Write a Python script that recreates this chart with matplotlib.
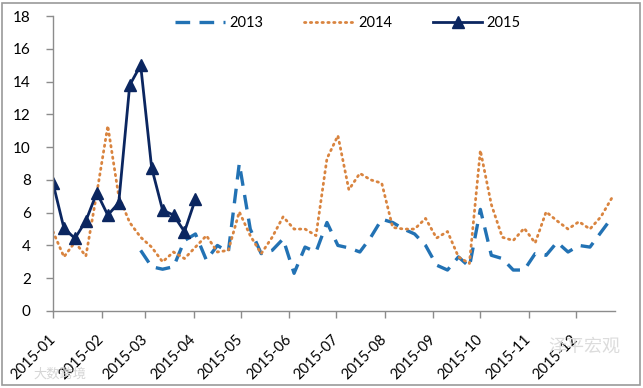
import numpy as np
import pandas as pd
import matplotlib
matplotlib.use('Agg')
import matplotlib.pyplot as plt
from matplotlib.patches import Rectangle

# weekly observations, plotted on a 2015 calendar axis
weeks = pd.date_range('2015-01-01', periods=52, freq='7D')

nan = np.nan
y2013 = [nan, nan, nan, nan, nan, nan, nan, nan,
         3.7, 2.7, 2.55, 2.7, 4.3, 4.7, 3.1, 4.0, 3.6, 9.0, 5.0, 3.5,
         3.7, 4.4, 2.3, 3.9, 3.6, 5.4, 4.0, 3.85, 3.6, 4.5, 5.6, 5.4,
         5.0, 4.7, 4.0, 2.8, 2.5, 3.3, 2.7, 6.2, 3.4, 3.2, 2.5, 2.5,
         3.5, 3.4, 4.2, 3.6, 4.0, 3.9, 4.8, 5.7]
y2014 = [4.85, 3.3, 4.2, 3.35, 7.2, 11.3, 7.0, 5.4, 4.5, 3.9, 3.0, 3.6,
         3.2, 3.9, 4.6, 3.6, 3.7, 6.05, 4.6, 3.5, 4.5, 5.75, 5.0, 5.0,
         4.6, 9.3, 10.7, 7.4, 8.4, 8.0, 7.8, 5.1, 5.0, 5.0, 5.65, 4.45,
         4.85, 3.3, 2.9, 9.8, 6.5, 4.5, 4.3, 5.05, 4.15, 6.05, 5.5, 5.0,
         5.45, 5.0, 5.75, 6.9]
y2015 = [7.8, 5.05, 4.43, 5.5, 7.22, 5.85, 6.6, 13.78, 15.0, 8.75, 6.16,
         5.85, 4.84, 6.83]

month_ticks = pd.date_range('2015-01-01', periods=12, freq='MS')
month_labels = [d.strftime('%Y-%m') for d in month_ticks]

plt.rcParams['font.family'] = ['Lato', 'DejaVu Sans']

fig = plt.figure(figsize=(6.43, 3.88), dpi=100)
ax = fig.add_axes([53 / 643, 1 - 311 / 388, 562 / 643, 295 / 388])

ax.plot(weeks, y2013, color='#2272b4', lw=2.4, ls=(0, (4.4, 2.8)), label='2013')
ax.plot(weeks, y2014, color='#d9843f', lw=2.0, ls=(0, (0.5, 1.6)),
        dash_capstyle='round', label='2014')
ax.plot(weeks[:len(y2015)], y2015, color='#0b2660', lw=2.0, marker='^',
        markersize=8, label='2015')

ax.set_ylim(0, 18)
ax.set_yticks(np.arange(0, 19, 2))
ax.set_xlim(pd.Timestamp('2015-01-01'), pd.Timestamp('2015-12-26'))
ax.set_xticks(month_ticks)
ax.set_xticklabels(month_labels, rotation=45, ha='right', va='center',
                   rotation_mode='anchor')

for s in ['top', 'right']:
    ax.spines[s].set_visible(False)
for s in ['left', 'bottom']:
    ax.spines[s].set_color('#8c8c8c')
    ax.spines[s].set_linewidth(1.0)
ax.tick_params(axis='both', colors='#8c8c8c', length=5, width=1.0,
               labelcolor='black')
ax.tick_params(axis='x', pad=14, labelsize=10.5)
ax.tick_params(axis='y', pad=11, labelsize=11)

ax.legend(loc='center', bbox_to_anchor=(0.525, 0.976), ncol=3, frameon=False,
          fontsize=10.5, handlelength=3.4, columnspacing=2.8, handletextpad=0.3,
          borderaxespad=0)

# outer frame
fig.patches.append(Rectangle((2 / 643, 3 / 388), 638 / 643, 382 / 388,
                             transform=fig.transFigure, fill=False,
                             edgecolor='#9a9a9a', lw=1.2))

# watermarks
fig.text(33 / 643, 1 - 374 / 388, '大数跨境', fontsize=9.5, color='#d6d6d6',
         family=['Noto Sans CJK SC'], va='center')
fig.text(548 / 643, 1 - 347 / 388, '泽平宏观', fontsize=13, color='#dcdcdc',
         family=['Noto Sans CJK SC'], va='center')

fig.savefig('out.png', dpi=100)
